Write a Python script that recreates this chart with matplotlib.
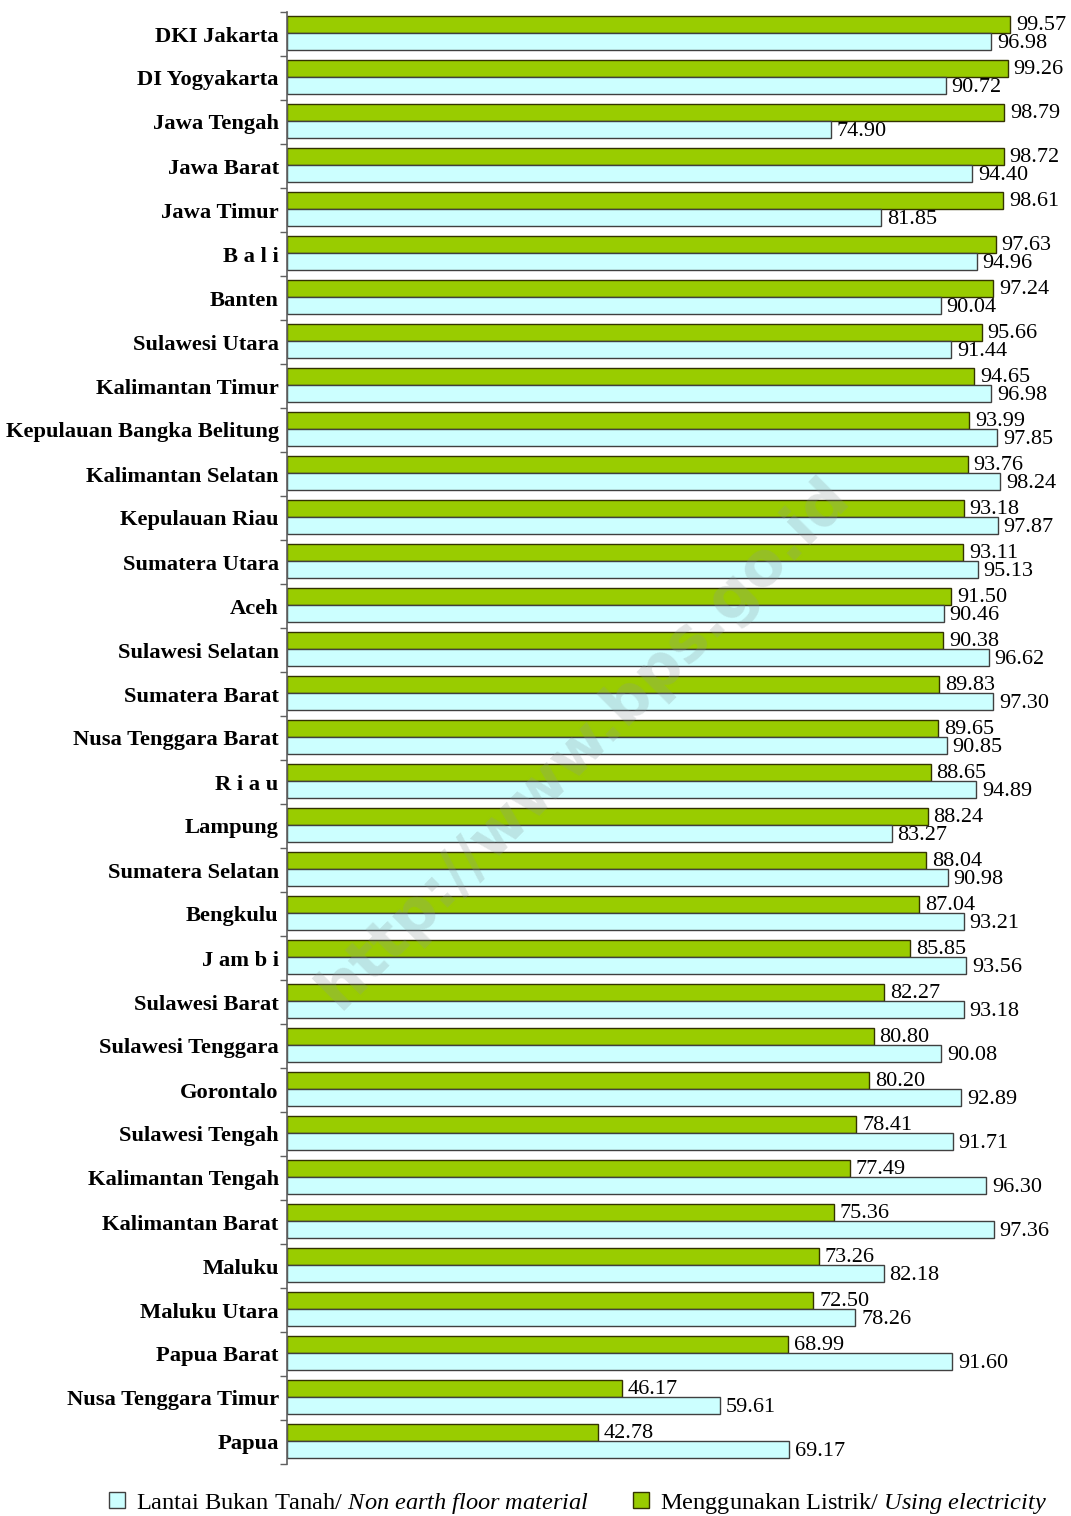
import numpy as np
import matplotlib
matplotlib.use("Agg")
import matplotlib.pyplot as plt
from matplotlib.patches import Patch

plt.rcParams["font.family"] = ["Liberation Serif", "DejaVu Serif"]
plt.rcParams["mathtext.fontset"] = "custom"
plt.rcParams["mathtext.rm"] = "Liberation Serif"
plt.rcParams["mathtext.it"] = "Liberation Serif:italic"

provinces = ["DKI Jakarta", "DI Yogyakarta", "Jawa Tengah", "Jawa Barat", "Jawa Timur",
             "B a l i", "Banten", "Sulawesi Utara", "Kalimantan Timur",
             "Kepulauan Bangka Belitung", "Kalimantan Selatan", "Kepulauan Riau",
             "Sumatera Utara", "Aceh", "Sulawesi Selatan", "Sumatera Barat",
             "Nusa Tenggara Barat", "R i a u", "Lampung", "Sumatera Selatan",
             "Bengkulu", "J am b i", "Sulawesi Barat", "Sulawesi Tenggara",
             "Gorontalo", "Sulawesi Tengah", "Kalimantan Tengah", "Kalimantan Barat",
             "Maluku", "Maluku Utara", "Papua Barat", "Nusa Tenggara Timur", "Papua"]

listrik = [99.57, 99.26, 98.79, 98.72, 98.61, 97.63, 97.24, 95.66, 94.65, 93.99,
           93.76, 93.18, 93.11, 91.50, 90.38, 89.83, 89.65, 88.65, 88.24, 88.04,
           87.04, 85.85, 82.27, 80.80, 80.20, 78.41, 77.49, 75.36, 73.26, 72.50,
           68.99, 46.17, 42.78]

lantai = [96.98, 90.72, 74.90, 94.40, 81.85, 94.96, 90.04, 91.44, 96.98, 97.85,
          98.24, 97.87, 95.13, 90.46, 96.62, 97.30, 90.85, 94.89, 83.27, 90.98,
          93.21, 93.56, 93.18, 90.08, 92.89, 91.71, 96.30, 97.36, 82.18, 78.26,
          91.60, 59.61, 69.17]

green = "#99CC00"
cyan = "#CCFFFF"

W, H = 1071, 1516
fig = plt.figure(figsize=(W / 100, H / 100), dpi=100)
ax = fig.add_axes([287 / W, 1 - 1464 / H, (1060 - 287) / W, 1452 / H])

y = np.arange(len(provinces))
bh = 0.386
ax.barh(y - 0.215, listrik, height=bh, color=green, edgecolor="#333300", linewidth=1.0)
ax.barh(y + 0.17, lantai, height=bh, color=cyan, edgecolor="#404040", linewidth=1.0)

for i in range(len(provinces)):
    ax.text(listrik[i] + 0.8, y[i] - 0.19, f"{listrik[i]:.2f}", va="center", ha="left",
            fontsize=16)
    ax.text(lantai[i] + 0.8, y[i] + 0.22, f"{lantai[i]:.2f}", va="center", ha="left",
            fontsize=16)

ax.set_xlim(0, (1060 - 287) / 7.261)
ax.set_ylim(len(provinces) - 0.5, -0.5)

ax.set_yticks(y)
ax.set_yticklabels(provinces, fontsize=16.2, fontweight="bold")
ax.tick_params(axis="y", which="major", length=0, pad=6)
ax.set_yticks(np.arange(len(provinces) + 1) - 0.5, minor=True)
ax.tick_params(axis="y", which="minor", length=5, color="#606060", width=1)
ax.set_xticks([])

for s in ["top", "right", "bottom"]:
    ax.spines[s].set_visible(False)
ax.spines["left"].set_color("#606060")
ax.spines["left"].set_linewidth(1.2)

# watermark
fig.text(0.545, 0.51, "http://www.bps.go.id", rotation=45, fontsize=44,
         fontweight="bold", family="DejaVu Sans", color="#8a9898", alpha=0.25,
         ha="center", va="center")

handles = [Patch(facecolor=cyan, edgecolor="#404040"),
           Patch(facecolor=green, edgecolor="#333300")]
labels = [r"Lantai Bukan Tanah/ $\mathit{Non\ earth\ floor\ material}$",
          r"Menggunakan Listrik/ $\mathit{Using\ electricity}$"]
fig.legend(handles, labels, loc="center", bbox_to_anchor=(0.54, 1 - 1503 / H), ncol=2,
           frameon=False, fontsize=17.6, handlelength=0.65, handleheight=0.65,
           handletextpad=0.45, columnspacing=1.8, borderpad=0)

fig.savefig("out.png", dpi=100)
